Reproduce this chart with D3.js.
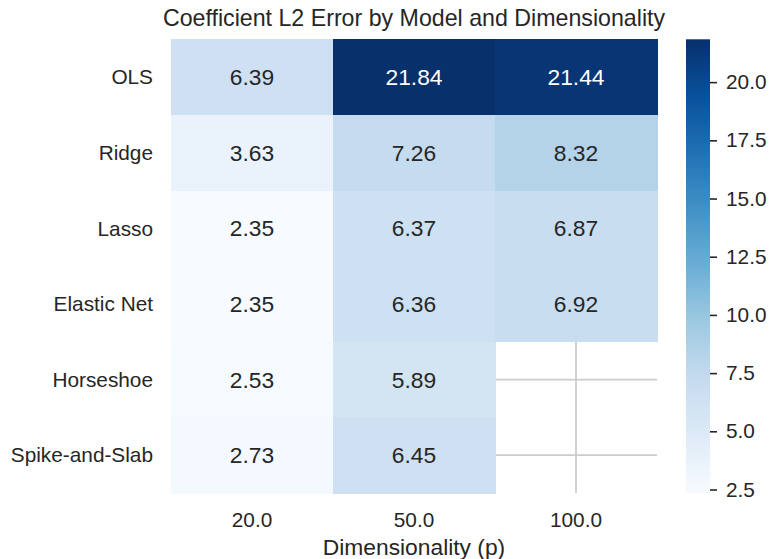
<!DOCTYPE html>
<html>
<head>
<meta charset="utf-8">
<script src="https://cdn.jsdelivr.net/npm/d3@7"></script>
<style>
  body { margin: 0; background: #fff; }
  svg text { font-family: 'Liberation Sans', Arial, sans-serif; fill: #262626; }
</style>
</head>
<body>
<div id="chart"></div>
<script>
var models = ['OLS', 'Ridge', 'Lasso', 'Elastic Net', 'Horseshoe', 'Spike-and-Slab']
var dims = ['20.0', '50.0', '100.0']
// one row per model, columns follow dims; null = not run
var errOLS = [6.39, 21.84, 21.44]
var errRidge = [3.63, 7.26, 8.32]
var errLasso = [2.35, 6.37, 6.87]
var errElastic = [2.35, 6.36, 6.92]
var errHorseshoe = [2.53, 5.89, null]
var errSpike = [2.73, 6.45, null]
var cbarTicks = [2.5, 5, 7.5, 10, 12.5, 15, 17.5, 20]

var rows = [errOLS, errRidge, errLasso, errElastic, errHorseshoe, errSpike]

var cells = []
rows.forEach((r, i) => r.forEach((v, j) => {
  if (v != null) cells.push({model: models[i], dim: dims[j], value: v})
}))

var width = 771
var height = 559
// note: can't call it `top`, window.top is read-only
var axL = 171, axR = 657, axT = 39.3, axB = 493
var cbLeft = 686, cbRight = 710

// matplotlib Blues (ColorBrewer 9 stops, linear segments)
var blues = ['#f7fbff', '#deebf7', '#c6dbef', '#9ecae1', '#6baed6', '#4292c6', '#2171b5', '#08519c', '#08306b']
var all = cells.map(d => d.value)
var vmin = d3.min(all), vmax = d3.max(all)
var color = d3.scaleLinear()
  .domain(blues.map((c, i) => vmin + (vmax - vmin) * i / (blues.length - 1)))
  .range(blues)
  .clamp(true)

var x = d3.scaleBand().domain(dims).range([axL, axR])
var y = d3.scaleBand().domain(models).range([axT, axB])
var cy = d3.scaleLinear().domain([vmin, vmax]).range([axB, axT])

var svg = d3.select('#chart').append('svg')
  .attr('width', width)
  .attr('height', height)

svg.append('rect').attr('width', width).attr('height', height).attr('fill', '#fff')

// whitegrid lines sit under the cells, only show where data is missing
var grid = svg.append('g')
grid.selectAll('line.vx').data(dims).join('line')
  .attr('x1', d => x(d) + x.bandwidth() / 2).attr('x2', d => x(d) + x.bandwidth() / 2)
  .attr('y1', axT).attr('y2', axB)
  .attr('stroke', '#cccccc').attr('stroke-width', 1.8)
grid.selectAll('line.hy').data(models).join('line')
  .attr('y1', d => y(d) + y.bandwidth() / 2).attr('y2', d => y(d) + y.bandwidth() / 2)
  .attr('x1', axL).attr('x2', axR)
  .attr('stroke', '#cccccc').attr('stroke-width', 1.8)

svg.append('g').selectAll('rect').data(cells).join('rect')
  .attr('x', d => x(d.dim))
  .attr('y', d => y(d.model))
  .attr('width', x.bandwidth() + 0.5)
  .attr('height', y.bandwidth() + 0.5)
  .attr('fill', d => color(d.value))
  .attr('shape-rendering', 'crispEdges')

// annotations, white text on dark cells like seaborn does
function lum(c) {
  var rgb = d3.rgb(c)
  var f = v => { v /= 255; return v <= 0.03928 ? v / 12.92 : Math.pow((v + 0.055) / 1.055, 2.4) }
  return 0.2126 * f(rgb.r) + 0.7152 * f(rgb.g) + 0.0722 * f(rgb.b)
}
svg.append('g').selectAll('text').data(cells).join('text')
  .attr('x', d => x(d.dim) + x.bandwidth() / 2)
  .attr('y', d => y(d.model) + y.bandwidth() / 2)
  .attr('dy', '0.35em')
  .attr('text-anchor', 'middle')
  .style('font-size', '22.8px')
  .style('fill', d => lum(color(d.value)) > 0.408 ? '#262626' : '#fff')
  .text(d => d3.format('.2f')(d.value))

// axes labels
svg.append('g').selectAll('text').data(models).join('text')
  .attr('x', 153)
  .attr('y', d => y(d) + y.bandwidth() / 2)
  .attr('dy', '0.35em')
  .attr('text-anchor', 'end')
  .style('font-size', '20.8px')
  .text(d => d)

svg.append('g').selectAll('text').data(dims).join('text')
  .attr('x', d => x(d) + x.bandwidth() / 2)
  .attr('y', 527)
  .attr('text-anchor', 'middle')
  .style('font-size', '20.8px')
  .text(d => d)

svg.append('text')
  .attr('x', (axL + axR) / 2).attr('y', 555)
  .attr('text-anchor', 'middle')
  .style('font-size', '22.8px')
  .text('Dimensionality (p)')

svg.append('text')
  .attr('x', (axL + axR) / 2).attr('y', 26)
  .attr('text-anchor', 'middle')
  .style('font-size', '23.2px')
  .text('Coefficient L2 Error by Model and Dimensionality')

// colorbar
var grad = svg.append('defs').append('linearGradient')
  .attr('id', 'cbar').attr('x1', 0).attr('y1', 1).attr('x2', 0).attr('y2', 0)
grad.selectAll('stop').data(blues).join('stop')
  .attr('offset', (d, i) => i / (blues.length - 1))
  .attr('stop-color', d => d)

svg.append('rect')
  .attr('x', cbLeft).attr('y', axT)
  .attr('width', cbRight - cbLeft).attr('height', axB - axT)
  .attr('fill', 'url(#cbar)')

var cbAxis = svg.append('g')
  .attr('transform', `translate(${cbRight},0)`)
  .call(d3.axisRight(cy).tickValues(cbarTicks).tickFormat(d3.format('.1f')).tickSize(7).tickPadding(9))
cbAxis.select('.domain').remove()
cbAxis.selectAll('line').attr('stroke', '#262626').attr('stroke-width', 1.6)
cbAxis.selectAll('text')
  .style('font-size', '20.8px')
  .style('font-family', "'Liberation Sans', Arial, sans-serif")
  .attr('fill', '#262626')
</script>
</body>
</html>
